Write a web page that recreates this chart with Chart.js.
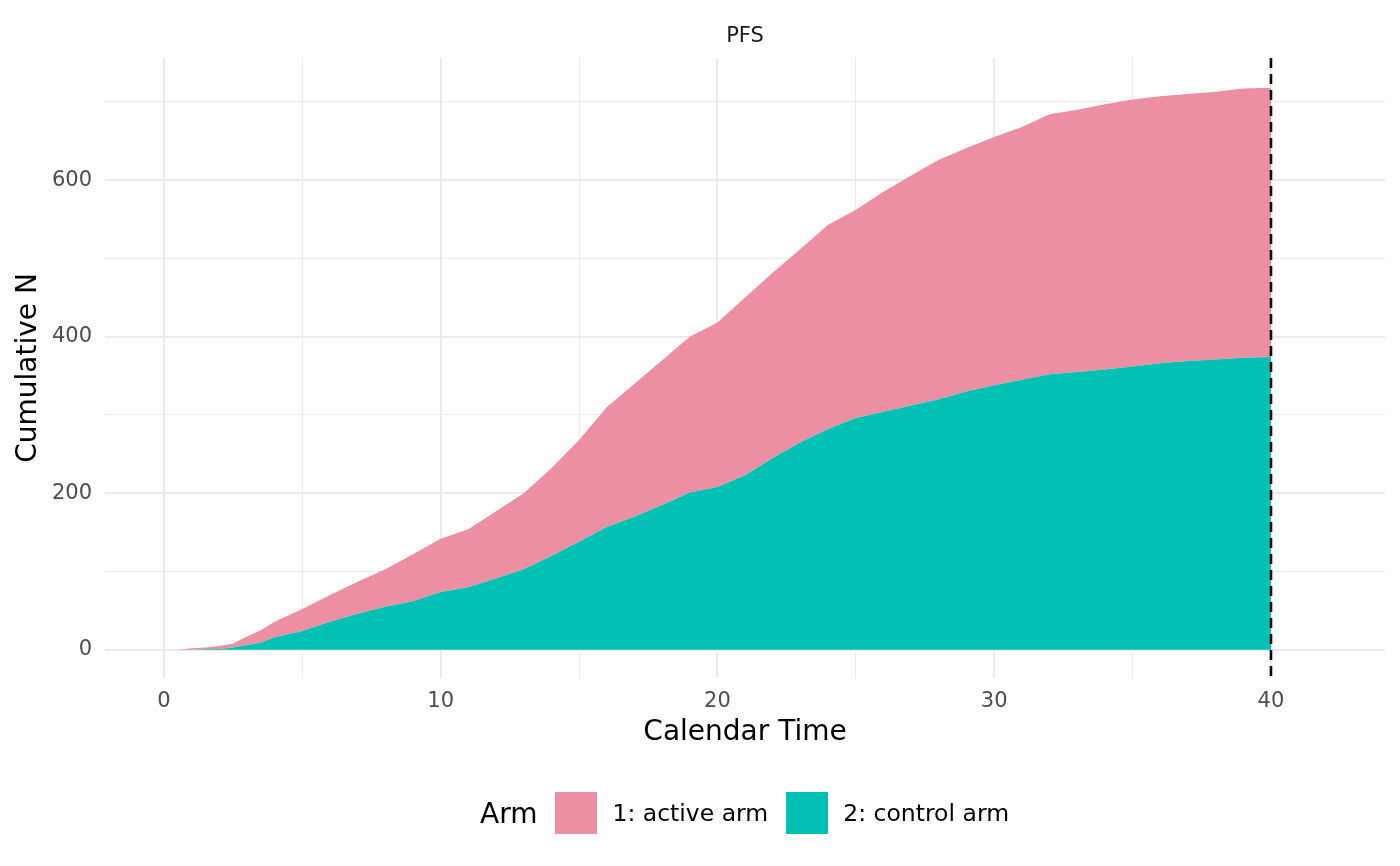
<!DOCTYPE html>
<html>
<head>
<meta charset="utf-8">
<script src="https://cdn.jsdelivr.net/npm/chart.js@4"></script>
<style>
  html, body { margin: 0; padding: 0; background: #fff; }
  #wrap { position: relative; width: 1400px; height: 866px; }
  #legend {
    position: absolute; left: 480px; top: 792px; height: 42px;
    display: flex; align-items: center; white-space: nowrap;
    font-family: "DejaVu Sans", sans-serif; color: #000;
  }
  #legend .ttl { font-size: 28px; margin-right: 18px; }
  #legend .sw { width: 42px; height: 42px; display: inline-block; }
  #legend .lab { font-size: 23.5px; margin: 0 18px 0 15px; }
</style>
</head>
<body>
<div id="wrap">
  <canvas id="pfsChart" width="1400" height="866"></canvas>
  <div id="legend">
    <span class="ttl">Arm</span>
    <span class="sw" style="background:#ED8FA2"></span><span class="lab">1: active arm</span>
    <span class="sw" style="background:#00C1B3"></span><span class="lab">2: control arm</span>
  </div>
</div>
<script>
// Dados (tempo de calendário e N acumulado por braço)
const calendarTime = [0.5, 1, 1.5, 2, 2.5, 3, 3.5, 4, 5, 6, 7, 8, 9, 10, 11, 12, 13, 14, 15, 16, 17, 18, 19, 20,
    21, 22, 23, 24, 25, 26, 27, 28, 29, 30, 31, 32, 33, 34, 35, 36, 37, 38, 39, 40];
const controlArm = [0, 0, 1, 1, 3, 6, 9, 16, 24, 36, 46, 55, 62, 74, 80, 91, 103, 120, 138, 157, 170, 185, 201, 208,
    223, 245, 265, 282, 296, 304, 312, 320, 330, 338, 345, 352, 355, 358, 362, 366, 369, 371, 373, 374];
const activeArm = [0, 2, 2, 4, 5, 11, 16, 20, 28, 34, 41, 48, 60, 68, 74, 86, 97, 112, 130, 153, 170, 185, 199, 210,
    227, 237, 247, 261, 266, 281, 294, 306, 311, 317, 323, 332, 335, 339, 341, 341, 341, 342, 344, 344];
const xTicks = [0, 10, 20, 30, 40];
const xMinor = [5, 15, 25, 35];
const yTicks = [0, 200, 400, 600];
const yMinor = [100, 300, 500, 700];
const cutoffTime = 40;

const toPoints = (vals) => calendarTime.map((t, i) => ({ x: t, y: vals[i] }));
const isMajor = (list) => (c) => (c.tick && list.includes(c.tick.value)) ? 2 : 1;

// Linha tracejada do corte e título do painel
const extras = {
    id: 'extras',
    afterDatasetsDraw(chart) {
        const { ctx, chartArea, scales } = chart;
        const x = scales.x.getPixelForValue(cutoffTime);
        ctx.save();
        ctx.strokeStyle = '#000';
        ctx.lineWidth = 2.6;
        ctx.setLineDash([10, 6]);
        ctx.beginPath();
        ctx.moveTo(x, chartArea.top);
        ctx.lineTo(x, chartArea.bottom);
        ctx.stroke();
        ctx.setLineDash([]);
        ctx.fillStyle = '#1a1a1a';
        ctx.font = '21px "DejaVu Sans"';
        ctx.textAlign = 'center';
        ctx.textBaseline = 'middle';
        ctx.fillText('PFS', (chartArea.left + chartArea.right) / 2, 37);
        ctx.restore();
    }
};

const ctx = document.getElementById('pfsChart').getContext('2d');
new Chart(ctx, {
    type: 'line',
    data: {
        datasets: [{
            label: '2: control arm',
            data: toPoints(controlArm),
            backgroundColor: '#00C1B3',
            borderWidth: 0,
            pointRadius: 0,
            fill: 'origin'
        }, {
            label: '1: active arm',
            data: toPoints(activeArm),
            backgroundColor: '#ED8FA2',
            borderWidth: 0,
            pointRadius: 0,
            fill: '-1'
        }]
    },
    options: {
        responsive: false,
        animation: false,
        layout: { padding: { left: 0, right: 15, top: 58, bottom: 108 } },
        plugins: { legend: { display: false }, tooltip: { enabled: false } },
        scales: {
            x: {
                type: 'linear',
                min: -2.13,
                max: 44.12,
                border: { display: false },
                afterBuildTicks: (s) => {
                    s.ticks = xTicks.concat(xMinor).sort((a, b) => a - b).map((v) => ({ value: v }));
                },
                ticks: {
                    padding: 11,
                    color: '#4D4D4D',
                    font: { family: 'DejaVu Sans', size: 21 },
                    maxRotation: 0,
                    autoSkip: false,
                    callback: (v) => xTicks.includes(v) ? String(v) : ''
                },
                grid: {
                    drawTicks: false,
                    color: '#EBEBEB',
                    lineWidth: isMajor(xTicks)
                },
                title: {
                    display: true,
                    text: 'Calendar Time',
                    color: '#000',
                    font: { family: 'DejaVu Sans', size: 28 },
                    padding: { top: 0, bottom: 8 }
                },
                afterFit: (s) => { s.height = 80; }
            },
            y: {
                type: 'linear',
                stacked: true,
                min: -36,
                max: 756,
                border: { display: false },
                afterBuildTicks: (s) => {
                    s.ticks = yTicks.concat(yMinor).sort((a, b) => a - b).map((v) => ({ value: v }));
                },
                ticks: {
                    padding: 13,
                    color: '#4D4D4D',
                    font: { family: 'DejaVu Sans', size: 21 },
                    autoSkip: false,
                    callback: (v) => yTicks.includes(v) ? String(v) : ''
                },
                grid: {
                    drawTicks: false,
                    color: '#EBEBEB',
                    lineWidth: isMajor(yTicks)
                },
                title: {
                    display: true,
                    text: 'Cumulative N',
                    color: '#000',
                    font: { family: 'DejaVu Sans', size: 28 },
                    padding: { top: 12, bottom: 0 }
                },
                afterFit: (s) => { s.width = 105; }
            }
        }
    },
    plugins: [extras]
});
</script>
</body>
</html>
